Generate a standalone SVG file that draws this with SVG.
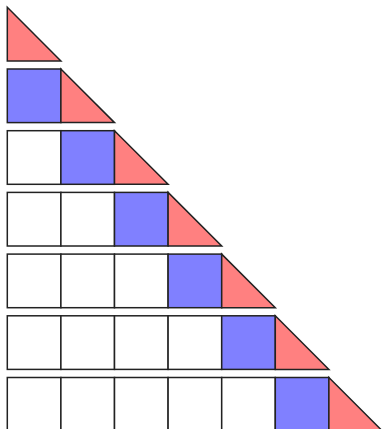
<svg xmlns="http://www.w3.org/2000/svg" width="382" height="429" viewBox="0 0 382 429">
<style>
.sq{fill:#ffffff;stroke:#222;stroke-width:1.5}
.bl{fill:#8080ff;stroke:#222;stroke-width:1.5}
.tr{fill:#ff8080;stroke:#222;stroke-width:1.5;stroke-linejoin:miter}
</style>
<defs>
<rect id="cell" width="53.6" height="53.6"/>
<path id="tri" d="M0,0 L0,53.6 L53.6,53.6 Z"/>
</defs>
<rect width="382" height="429" fill="#fff"/>
<g id="row0" transform="translate(7.3,7.3)">
<use href="#tri" class="tr"/>
</g>
<g id="row1" transform="translate(7.3,69)">
<use href="#cell" class="bl" x="0"/>
<use href="#tri" class="tr" x="53.6"/>
</g>
<g id="row2" transform="translate(7.3,130.7)">
<use href="#cell" class="sq" x="0"/>
<use href="#cell" class="bl" x="53.6"/>
<use href="#tri" class="tr" x="107.2"/>
</g>
<g id="row3" transform="translate(7.3,192.4)">
<use href="#cell" class="sq" x="0"/>
<use href="#cell" class="sq" x="53.6"/>
<use href="#cell" class="bl" x="107.2"/>
<use href="#tri" class="tr" x="160.8"/>
</g>
<g id="row4" transform="translate(7.3,254.1)">
<use href="#cell" class="sq" x="0"/>
<use href="#cell" class="sq" x="53.6"/>
<use href="#cell" class="sq" x="107.2"/>
<use href="#cell" class="bl" x="160.8"/>
<use href="#tri" class="tr" x="214.4"/>
</g>
<g id="row5" transform="translate(7.3,315.8)">
<use href="#cell" class="sq" x="0"/>
<use href="#cell" class="sq" x="53.6"/>
<use href="#cell" class="sq" x="107.2"/>
<use href="#cell" class="sq" x="160.8"/>
<use href="#cell" class="bl" x="214.4"/>
<use href="#tri" class="tr" x="268"/>
</g>
<g id="row6" transform="translate(7.3,377.5)">
<use href="#cell" class="sq" x="0"/>
<use href="#cell" class="sq" x="53.6"/>
<use href="#cell" class="sq" x="107.2"/>
<use href="#cell" class="sq" x="160.8"/>
<use href="#cell" class="sq" x="214.4"/>
<use href="#cell" class="bl" x="268"/>
<use href="#tri" class="tr" x="321.6"/>
</g>
<g id="connectors"></g>
</svg>
